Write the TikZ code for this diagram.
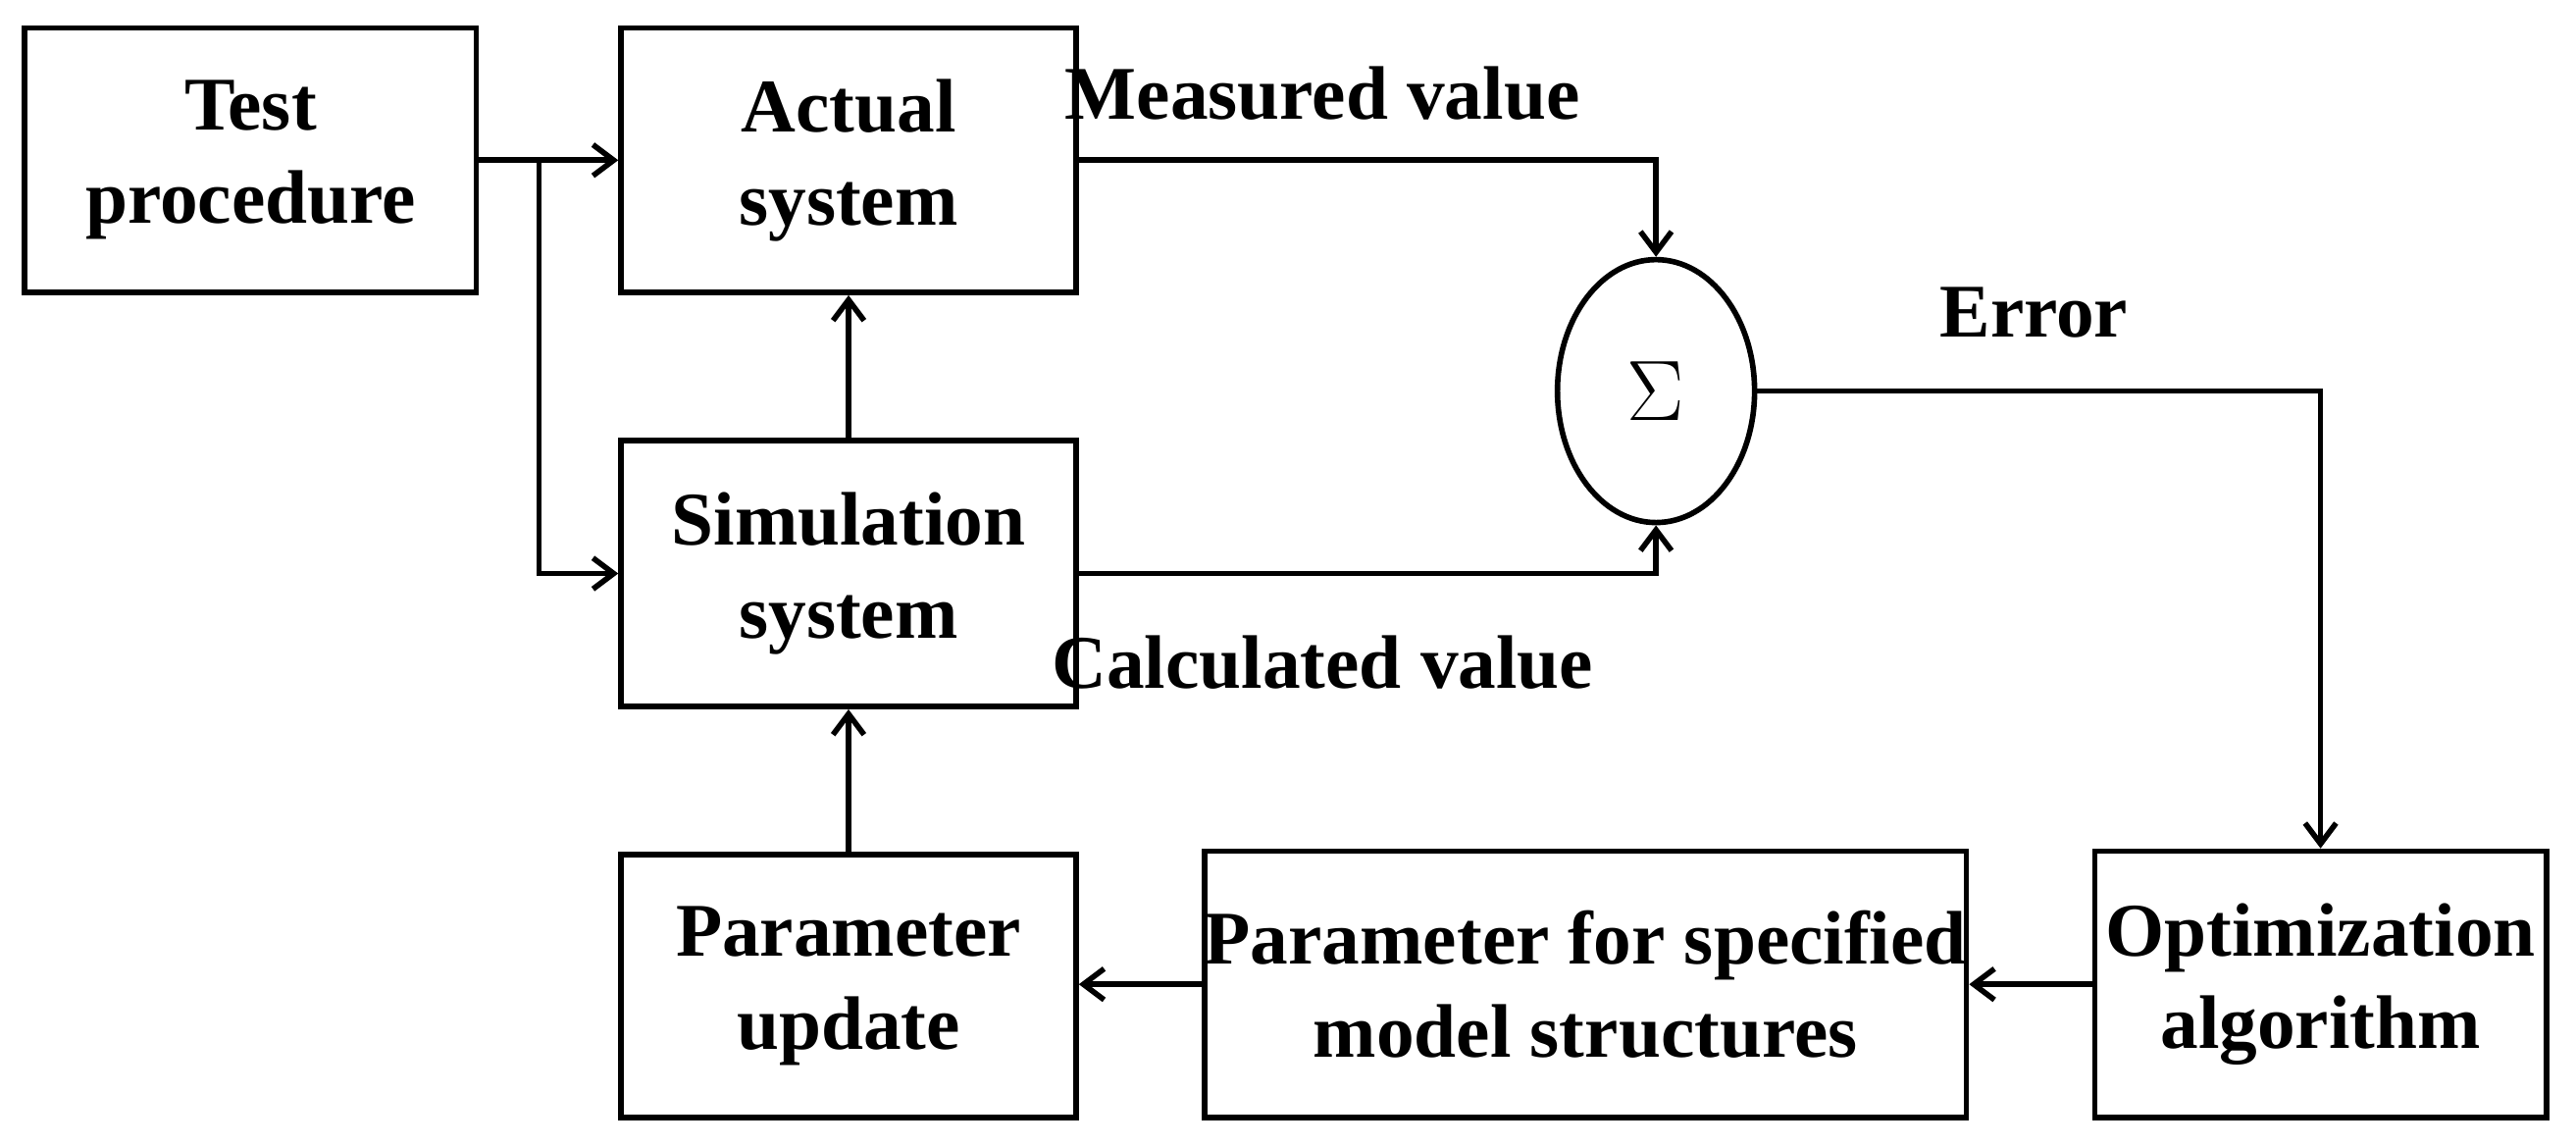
\documentclass[tikz,border=0pt]{standalone}
\usepackage{fontspec}
\setmainfont{Liberation Serif}
\usetikzlibrary{shapes.geometric,arrows.meta}
\begin{document}
\begin{tikzpicture}[x=0.01675cm,y=-0.01675cm,
 box/.style={draw,line width=1.6pt,align=center,font=\fontsize{22}{27}\selectfont\bfseries,inner sep=0pt},
 lbl/.style={font=\fontsize{22}{27}\selectfont\bfseries},
 arr/.style={line width=1.6pt,-{Straight Barb[length=6pt,width=9pt]}}]
\useasboundingbox (0,0) rectangle (1568,697);
\node[box,minimum width=275*0.01675cm,minimum height=161*0.01675cm] (test) at (152.5,97.5) {Test\\procedure};
\node[box,minimum width=277*0.01675cm,minimum height=161*0.01675cm] (act) at (516.5,97.5) {Actual\\system};
\node[box,minimum width=277*0.01675cm,minimum height=162*0.01675cm] (sim) at (516.5,349) {Simulation\\system};
\node[box,minimum width=277*0.01675cm,minimum height=160*0.01675cm] (pu) at (516.5,600) {Parameter\\update};
\node[box,minimum width=444*0.01675cm,minimum height=162*0.01675cm] (pf) at (965,599) {Parameter for specified\\model structures};
\node[box,minimum width=275*0.01675cm,minimum height=162*0.01675cm] (opt) at (1412.5,599) {Optimization\\algorithm};
\node[draw,line width=1.6pt,ellipse,minimum width=120*0.01675cm,minimum height=160*0.01675cm,inner sep=0pt,font=\fontsize{40}{44}\selectfont] (sig) at (1008,238) {$\Sigma$};
\coordinate (br) at (328,97.5);
\draw[arr] (test.east) -- (act.west);
\draw[arr] (br) |- (sim.west);
\draw[arr] (sim.north) -- (act.north|-act.south);
\draw[arr] (act.east) -| (sig.north);
\draw[arr] (sim.east) -| (sig.south);
\draw[arr] (sig.east) -| (opt.north);
\draw[arr] (opt.west) -- (pf.east);
\draw[arr] (pf.west) -- (pu.east|-pf.west);
\draw[arr] (pu.north) -- (sim.south);
\node[lbl] (mv) at (805,57) {Measured value};
\node[lbl] (er) at (1238,190) {Error};
\node[lbl] (cv) at (805,403) {Calculated value};
\end{tikzpicture}
\end{document}
